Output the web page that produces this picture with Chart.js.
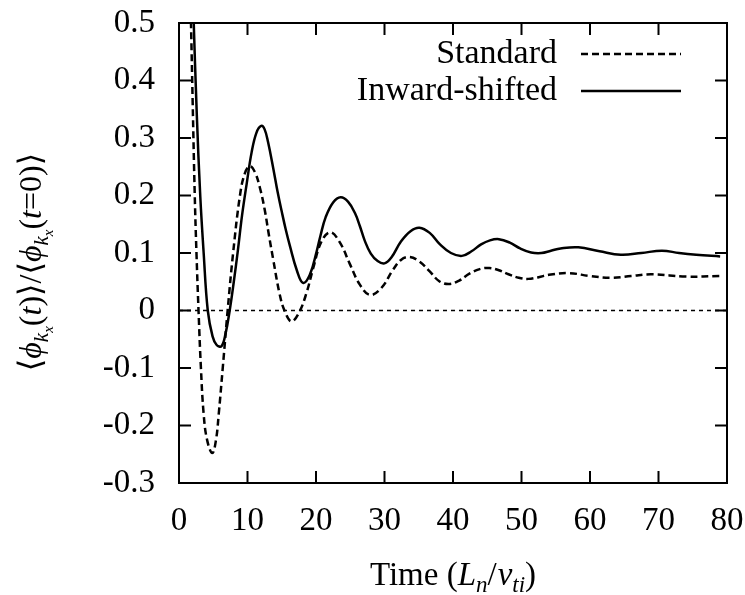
<!DOCTYPE html>
<html>
<head>
<meta charset="utf-8">
<script src="https://cdn.jsdelivr.net/npm/chart.js@4"></script>
<style>
  html, body { margin: 0; padding: 0; background: #fff; }
  #wrap { width: 745px; height: 595px; }
</style>
</head>
<body>
<div id="wrap"><canvas id="grafico" width="745" height="595"></canvas></div>
<script>
// valores
const tStandard = [0, 1, 1.4, 1.75, 2.0, 2.3, 2.55, 2.85, 3.2, 3.6, 4.1, 4.86, 5.4, 5.8, 6.4, 7.1, 7.9, 8.9, 9.6, 10.35, 11.1, 11.8, 12.5, 13.1, 13.75, 14.7, 15.4, 16.4, 17.5, 18.6, 19.6, 20.8, 22.1, 23.5, 24.9, 26.4, 27.9, 29.6, 31.2, 32.4, 33.7, 35.1, 36.6, 38, 39.4, 40.9, 42.4, 43.9, 45.3, 46.7, 48.1, 49.6, 51, 52.5, 54, 56.9, 60, 63, 66, 69, 74, 79];
const phiStandard = [1.0, 0.85, 0.68, 0.5, 0.36, 0.2, 0.1, 0.0, -0.1, -0.18, -0.225, -0.248, -0.225, -0.18, -0.098, 0.0, 0.1, 0.2, 0.238, 0.251, 0.24, 0.214, 0.176, 0.133, 0.089, 0.028, 0.0, -0.019, -0.004, 0.03, 0.074, 0.12, 0.136, 0.118, 0.082, 0.045, 0.027, 0.04, 0.07, 0.088, 0.093, 0.085, 0.068, 0.051, 0.046, 0.052, 0.064, 0.072, 0.074, 0.07, 0.063, 0.057, 0.055, 0.058, 0.062, 0.065, 0.06, 0.057, 0.06, 0.063, 0.059, 0.06];

const tInward = [0, 1, 1.6, 2.1, 2.6, 3.1, 3.6, 4.2, 4.9, 5.5, 6.2, 6.8, 7.4, 8.0, 8.6, 9.2, 9.9, 10.6, 11.3, 12, 12.5, 13.0, 13.75, 14.4, 15.0, 15.6, 16.2, 17.2, 18.1, 19.1, 20.1, 20.65, 21.4, 22.5, 23.6, 24.7, 25.7, 26.4, 27.1, 28.0, 29.0, 30, 31, 32.4, 33.8, 35.1, 36.6, 38.1, 39.7, 41.3, 42.7, 44.1, 45.4, 46.7, 48.3, 49.8, 51.4, 52.9, 54.3, 55.7, 58.3, 61.4, 64.5, 67.5, 70.5, 73, 75.5, 79];
const phiInward = [1.0, 0.9, 0.72, 0.52, 0.34, 0.2, 0.1, 0.0, -0.045, -0.06, -0.062, -0.04, 0.0, 0.05, 0.105, 0.165, 0.222, 0.275, 0.309, 0.321, 0.315, 0.293, 0.248, 0.206, 0.172, 0.14, 0.112, 0.07, 0.048, 0.062, 0.103, 0.13, 0.162, 0.188, 0.197, 0.189, 0.169, 0.147, 0.122, 0.099, 0.086, 0.082, 0.092, 0.12, 0.138, 0.144, 0.135, 0.115, 0.1, 0.095, 0.103, 0.115, 0.122, 0.124, 0.118, 0.108, 0.101, 0.1, 0.104, 0.108, 0.11, 0.103, 0.097, 0.1, 0.104, 0.1, 0.097, 0.094];

const seriesLabels = ['Standard', 'Inward-shifted'];
const xTicks = [0, 80, 10];      // min, max, passo
const yTicks = [-0.3, 0.5, 0.1];

const FONT = '"Liberation Serif", "DejaVu Serif", serif';

function pontos(xs, ys) {
  return xs.map((x, i) => ({ x: x, y: ys[i] }));
}

// texto com subscritos
function textoRico(ctx, partes, x, y) {
  let total = 0;
  partes.forEach(p => {
    ctx.font = (p.it ? 'italic ' : '') + p.size + 'px ' + FONT;
    p.w = ctx.measureText(p.t).width;
    total += p.w + (p.kern || 0);
  });
  let cx = x - total / 2;
  partes.forEach(p => {
    ctx.font = (p.it ? 'italic ' : '') + p.size + 'px ' + FONT;
    ctx.fillText(p.t, cx, y + (p.dy || 0));
    cx += p.w + (p.kern || 0);
  });
}

const molduraPlugin = {
  id: 'moldura',
  afterDraw(chart) {
    const ctx = chart.ctx;
    const a = chart.chartArea;
    const sx = chart.scales.x, sy = chart.scales.y;
    ctx.save();
    ctx.strokeStyle = '#000';
    ctx.fillStyle = '#000';

    // linha do zero
    const y0 = sy.getPixelForValue(0);
    ctx.lineWidth = 1.5;
    ctx.setLineDash([4, 4]);
    ctx.beginPath();
    ctx.moveTo(a.left, y0);
    ctx.lineTo(a.right, y0);
    ctx.stroke();
    ctx.setLineDash([]);

    // caixa e marcas internas
    ctx.lineWidth = 2;
    ctx.strokeRect(a.left, a.top, a.right - a.left, a.bottom - a.top);
    const L = 12;
    ctx.beginPath();
    sx.ticks.forEach(t => {
      const px = sx.getPixelForValue(t.value);
      ctx.moveTo(px, a.bottom); ctx.lineTo(px, a.bottom - L);
      ctx.moveTo(px, a.top); ctx.lineTo(px, a.top + L);
    });
    sy.ticks.forEach(t => {
      const py = sy.getPixelForValue(t.value);
      ctx.moveTo(a.left, py); ctx.lineTo(a.left + L, py);
      ctx.moveTo(a.right, py); ctx.lineTo(a.right - L, py);
    });
    ctx.stroke();

    // legenda
    ctx.font = '34px ' + FONT;
    ctx.textBaseline = 'middle';
    chart.data.datasets.forEach((ds, i) => {
      const ly = a.top + 31 + i * 37;
      ctx.textAlign = 'right';
      ctx.fillText(ds.label, a.right - 170, ly);
      ctx.lineWidth = ds.borderWidth;
      ctx.setLineDash(ds.borderDash || []);
      ctx.beginPath();
      ctx.moveTo(a.right - 146, ly);
      ctx.lineTo(a.right - 46, ly);
      ctx.stroke();
      ctx.setLineDash([]);
    });

    // títulos dos eixos
    ctx.textAlign = 'left';
    ctx.textBaseline = 'alphabetic';
    textoRico(ctx, [
      { t: 'Time (', size: 33 },
      { t: 'L', size: 33, it: true },
      { t: 'n', size: 23, it: true, dy: 7 },
      { t: '/', size: 33, kern: 1 },
      { t: 'v', size: 33, it: true },
      { t: 'ti', size: 23, it: true, dy: 7 },
      { t: ')', size: 33 }
    ], (a.left + a.right) / 2, 585);

    ctx.translate(30, 262);
    ctx.rotate(-Math.PI / 2);
    const phi = [
      { t: 'ϕ', size: 32, it: true },
      { t: 'k', size: 21, it: true, dy: 7 },
      { t: 'x', size: 15, it: true, dy: 12 }
    ];
    textoRico(ctx, [
      { t: '⟨', size: 32 },
      ...phi.map(p => Object.assign({}, p)),
      { t: '(', size: 32 },
      { t: 't', size: 32, it: true },
      { t: ')⟩/⟨', size: 32 },
      ...phi.map(p => Object.assign({}, p)),
      { t: '(', size: 32 },
      { t: 't', size: 32, it: true },
      { t: '=0)⟩', size: 32 }
    ], 0, 11);
    ctx.restore();
  }
};

const ctx = document.getElementById('grafico').getContext('2d');
const chart = new Chart(ctx, {
  type: 'line',
  data: {
    datasets: [{
      label: seriesLabels[0],
      data: pontos(tStandard, phiStandard),
      borderColor: '#000',
      borderWidth: 2.5,
      borderDash: [7, 4],
      pointRadius: 0,
      tension: 0.4,
      fill: false
    }, {
      label: seriesLabels[1],
      data: pontos(tInward, phiInward),
      borderColor: '#000',
      borderWidth: 2.5,
      pointRadius: 0,
      tension: 0.4,
      fill: false
    }]
  },
  options: {
    responsive: false,
    animation: false,
    events: [],
    layout: { padding: { left: 0, top: 23, right: 18, bottom: 0 } },
    plugins: { legend: { display: false }, tooltip: { enabled: false } },
    scales: {
      x: {
        type: 'linear',
        min: xTicks[0], max: xTicks[1],
        grid: { display: false, drawTicks: false },
        border: { display: false },
        ticks: { stepSize: xTicks[2], padding: 19, color: '#000', font: { family: FONT, size: 33 }, maxRotation: 0 },
        afterFit: s => { s.height = 112; s.paddingLeft = 0; s.paddingRight = 0; }
      },
      y: {
        min: yTicks[0], max: yTicks[1],
        grid: { display: false, drawTicks: false },
        border: { display: false },
        ticks: {
          stepSize: yTicks[2], padding: 24, color: '#000', font: { family: FONT, size: 33 },
          callback: v => Math.abs(v) < 1e-9 ? '0' : v.toFixed(1)
        },
        afterFit: s => { s.width = 179; s.paddingTop = 0; s.paddingBottom = 0; }
      }
    }
  },
  plugins: [molduraPlugin]
});
</script>
</body>
</html>
